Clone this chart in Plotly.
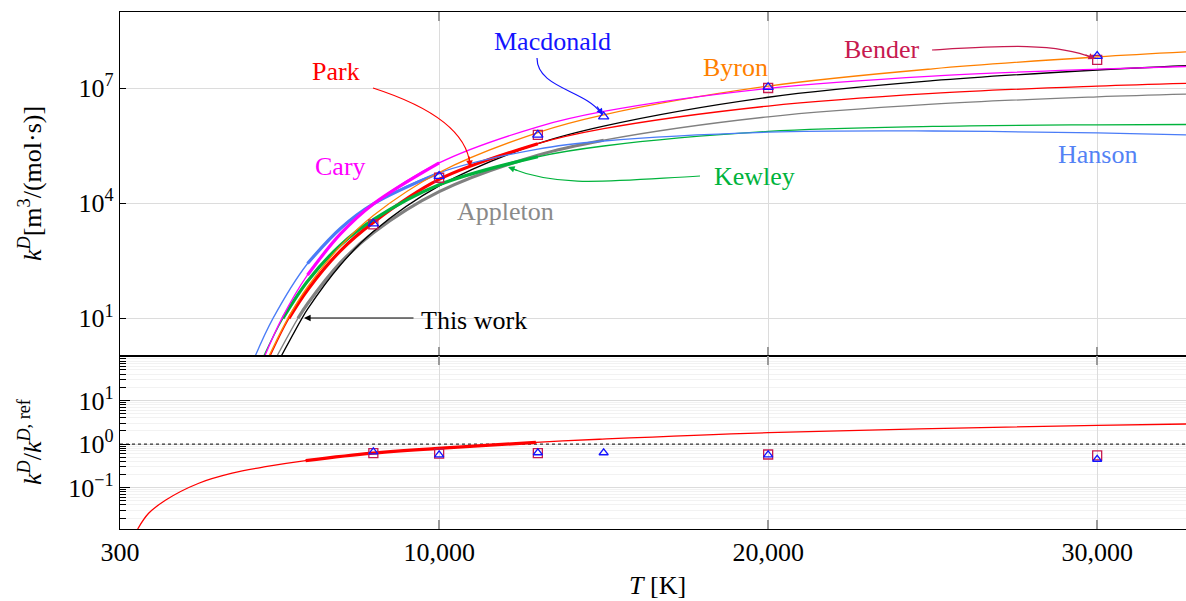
import numpy as np
import plotly.graph_objects as go
from plotly.subplots import make_subplots

# ---------------- data ----------------
park_T = [4850, 5434, 6000, 7000, 8000, 10000, 13000, 15000, 20000, 25000, 30000, 32700]
park_k = [1.0, 1.0e1, 5.5e1, 5.75e2, 3.16e3, 4.17e4, 3.55e5, 8.71e5, 3.39e6, 7.24e6, 1.12e7, 1.32e7]

this_T = [5190, 5830, 6000, 7000, 8000, 10000, 13000, 15000, 20000, 25000, 30000, 32700]
this_k = [1.0, 1.0e1, 1.74e1, 2.45e2, 1.82e3, 2.82e4, 3.55e5, 1.02e6, 5.75e6, 1.55e7, 2.95e7, 3.80e7]

appleton_T = [5060, 5708, 6000, 7000, 8000, 10000, 13000, 15000, 20000, 25000, 30000, 32700]
appleton_k = [1.0, 1.0e1, 2.40e1, 2.82e2, 1.70e3, 2.0e4, 1.78e5, 4.37e5, 1.78e6, 3.80e6, 5.89e6, 6.92e6]

kewley_T = [4660, 5251, 6000, 7000, 8000, 10000, 13000, 15000, 20000, 25000, 30000, 32700]
kewley_k = [1.0, 1.0e1, 9.3e1, 8.1e2, 3.72e3, 3.02e4, 1.62e5, 3.09e5, 7.41e5, 1.0e6, 1.10e6, 1.12e6]

hanson_T = [4400, 4950, 6000, 7000, 8000, 10000, 13000, 15000, 20000, 25000, 30000, 32700]
hanson_k = [1.0, 1.0e1, 2.69e2, 2.19e3, 9.55e3, 6.17e4, 2.57e5, 4.17e5, 7.08e5, 7.59e5, 6.76e5, 6.03e5]

cary_T = [4690, 5220, 6000, 7000, 8000, 10000, 13000, 15000, 20000, 25000, 30000, 32700]
cary_k = [1.0, 1.0e1, 1.35e2, 1.58e3, 9.55e3, 1.12e5, 9.77e5, 2.45e6, 9.77e6, 2.04e7, 3.09e7, 3.63e7]

byron_T = [4820, 5403, 6000, 7000, 8000, 10000, 13000, 15000, 20000, 25000, 30000, 32700]
byron_k = [1.0, 1.0e1, 6.6e1, 7.6e2, 4.79e3, 6.31e4, 6.92e5, 2.0e6, 1.12e7, 3.16e7, 6.46e7, 8.71e7]

bender_T = [8000, 10000, 13000, 20000, 30000]
bender_k = [2.8e3, 4.6e4, 6.0e5, 1.0e7, 5.4e7]
bender_ratio = [0.617, 0.603, 0.617, 0.575, 0.55]

macdonald_T = [8000, 10000, 13000, 15000, 20000, 30000]
macdonald_k = [2.95e3, 5.1e4, 6.0e5, 1.8e6, 1.05e7, 6.8e7]
macdonald_ratio = [0.66, 0.562, 0.631, 0.631, 0.562, 0.447]

ratio_T = [837, 1170, 1680, 2694, 3708, 4724, 5942, 7970, 9960, 12940, 14870, 20000, 30000, 32700]
ratio_v = [0.0112, 0.0257, 0.0513, 0.126, 0.214, 0.302, 0.417, 0.617, 0.794, 1.096, 1.288, 1.82, 2.69, 2.88]

x_ticks = [300, 10000, 20000, 30000]
x_ticktext = ["300", "10,000", "20,000", "30,000"]
x_range = [300, 32700]

# ---------------- style ----------------
RED = "#ff0000"
BLACK = "#000000"
GRAY = "#808080"
GREEN = "#00b33c"
HBLUE = "#4a7cf7"
MAGENTA = "#ff00ff"
ORANGE = "#ff8000"
CRIMSON = "#c71a4f"
BLUE = "#1414ff"
FONT = "Liberation Serif, DejaVu Serif, serif"
FS = 26
THIN = 1.3
THICK = 3.2

W, H = 1186, 601
L, R, T_, B = 120, 0, 12, 72
PLOT_W = W - L - R
PLOT_H = H - T_ - B


def PX(px):
    return (px - L) / PLOT_W


def PY(py):
    return (H - B - py) / PLOT_H


fig = make_subplots(rows=2, cols=1, shared_xaxes=True, vertical_spacing=0,
                    row_heights=[344, 173])

curves = [
    (appleton_T, appleton_k, GRAY, (1, 8)),
    (this_T, this_k, BLACK, None),
    (park_T, park_k, RED, (1, 7)),
    (kewley_T, kewley_k, GREEN, (1, 7)),
    (hanson_T, hanson_k, HBLUE, (2, 6)),
    (byron_T, byron_k, ORANGE, None),
    (cary_T, cary_k, MAGENTA, (2, 6)),
]
for xs, ys, col, thick in curves:
    fig.add_trace(go.Scatter(x=xs, y=ys, mode="lines",
                             line=dict(color=col, width=THIN, shape="spline", smoothing=1.0),
                             showlegend=False), row=1, col=1)
    if thick:
        a, b = thick
        fig.add_trace(go.Scatter(x=xs[a:b], y=ys[a:b], mode="lines",
                                 line=dict(color=col, width=THICK, shape="spline", smoothing=1.0),
                                 showlegend=False), row=1, col=1)

fig.add_trace(go.Scatter(x=bender_T, y=bender_k, mode="markers",
                         marker=dict(symbol="square-open", size=9, color=CRIMSON,
                                     line=dict(width=1.3, color=CRIMSON)),
                         showlegend=False), row=1, col=1)
fig.add_trace(go.Scatter(x=macdonald_T, y=macdonald_k, mode="markers",
                         marker=dict(symbol="triangle-up-open", size=9, color=BLUE,
                                     line=dict(width=1.3, color=BLUE)),
                         showlegend=False), row=1, col=1)

# bottom panel
fig.add_trace(go.Scatter(x=x_range, y=[1, 1], mode="lines",
                         line=dict(color="#333333", width=1.2, dash="dot"),
                         showlegend=False), row=2, col=1)
fig.add_trace(go.Scatter(x=ratio_T, y=ratio_v, mode="lines",
                         line=dict(color=RED, width=THIN, shape="spline", smoothing=1.0),
                         showlegend=False), row=2, col=1)
fig.add_trace(go.Scatter(x=ratio_T[6:10], y=ratio_v[6:10], mode="lines",
                         line=dict(color=RED, width=THICK, shape="spline", smoothing=1.0),
                         showlegend=False), row=2, col=1)
fig.add_trace(go.Scatter(x=bender_T, y=bender_ratio, mode="markers",
                         marker=dict(symbol="square-open", size=9, color=CRIMSON,
                                     line=dict(width=1.3, color=CRIMSON)),
                         showlegend=False), row=2, col=1)
fig.add_trace(go.Scatter(x=macdonald_T, y=macdonald_ratio, mode="markers",
                         marker=dict(symbol="triangle-up-open", size=8, color=BLUE,
                                     line=dict(width=1.3, color=BLUE)),
                         showlegend=False), row=2, col=1)

# axes
xcommon = dict(range=x_range, tickvals=x_ticks, ticktext=x_ticktext,
               showgrid=True, gridcolor="#dcdcdc", gridwidth=1,
               showline=True, linecolor="black", linewidth=1.3, mirror="ticks",
               ticks="inside", ticklen=9, tickcolor="#9a9a9a", tickwidth=1.5,
               zeroline=False)
fig.update_xaxes(**xcommon, row=1, col=1, showticklabels=False)
fig.update_xaxes(**xcommon, row=2, col=1, showticklabels=True,
                 tickfont=dict(family=FONT, size=FS, color="black"))

fig.update_yaxes(type="log", range=[0.02, 8.98], row=1, col=1,
                 tickvals=[1e1, 1e4, 1e7],
                 ticktext=["10<sup>1</sup>", "10<sup>4</sup>", "10<sup>7</sup>"],
                 showgrid=True, gridcolor="#dcdcdc", gridwidth=1,
                 showline=True, linecolor="black", linewidth=1.3,
                 ticks="inside", ticklen=6, tickcolor="black",
                 tickfont=dict(family=FONT, size=FS, color="black"), zeroline=False)

minor_vals = [m * 10.0 ** e for e in range(-2, 2) for m in range(2, 10)]
fig.update_yaxes(type="log", range=[-1.95, 2.02], row=2, col=1,
                 tickvals=[0.1, 1, 10],
                 ticktext=["10<sup>\u22121</sup>", "10<sup>0</sup>", "10<sup>1</sup>"],
                 showgrid=True, gridcolor="#dcdcdc", gridwidth=1,
                 showline=True, linecolor="black", linewidth=1.3,
                 ticks="inside", ticklen=10, tickcolor="black",
                 minor=dict(tickvals=minor_vals, ticks="inside", ticklen=6,
                            tickcolor="black", showgrid=True, gridcolor="#f2f2f2"),
                 tickfont=dict(family=FONT, size=FS, color="black"), zeroline=False)

# annotations
ann = []


def label(text, px, py, color, **kw):
    ann.append(dict(text=text, x=PX(px), y=PY(py), xref="paper", yref="paper",
                    showarrow=False, font=dict(family=FONT, size=FS, color=color),
                    xanchor="center", yanchor="middle", **kw))


def arrowhead(px, py, ax, ay, color):
    ann.append(dict(text="", x=PX(px), y=PY(py), xref="paper", yref="paper",
                    showarrow=True, ax=ax, ay=ay, arrowhead=2, arrowsize=1.1,
                    arrowwidth=1.2, arrowcolor=color, standoff=0))


label("Park", 336, 71, RED)
label("Macdonald", 552, 41, BLUE)
label("Byron", 735, 68, ORANGE)
label("Bender", 881, 50, CRIMSON)
label("Cary", 340, 166, MAGENTA)
label("Hanson", 1097, 154, "#5382f5")
label("Kewley", 754, 176, GREEN)
label("Appleton", 505, 211, "#8a8a8a")
label("This work", 474, 320, BLACK)

# curved connector paths
shapes = []


def path(pts, color, kind="C"):
    p = [(PX(a), PY(b)) for a, b in pts]
    d = "M %.5f,%.5f %s " % (p[0][0], p[0][1], kind) + " ".join("%.5f,%.5f" % q for q in p[1:])
    shapes.append(dict(type="path", path=d, xref="paper", yref="paper",
                       line=dict(color=color, width=1.2)))


path([(373, 88), (466, 118), (470, 165)], RED, "Q")
arrowhead(470, 167, -1, -12, RED)
path([(537, 58), (537, 88), (585, 90), (601, 113)], BLUE)
arrowhead(603, 115, -7, -10, BLUE)
path([(932, 50), (1000, 46), (1055, 42), (1093, 58)], CRIMSON)
arrowhead(1095, 59, -11, -5, CRIMSON)
path([(700, 176), (610, 181), (560, 188), (510, 168)], GREEN)
arrowhead(508, 167, 11, 4, GREEN)
arrowhead(304, 318, 111, 0, BLACK)

# axis titles
ann.append(dict(text="<i>k</i><sup><i>D</i></sup>[m<sup>3</sup>/(mol\u00b7s)]",
                x=PX(30), y=PY(184), xref="paper", yref="paper", showarrow=False,
                textangle=-90, font=dict(family=FONT, size=FS, color="black"),
                xanchor="center", yanchor="middle"))
ann.append(dict(text="<i>k</i><sup><i>D</i></sup>/<i>k</i><sup><i>D</i>, ref</sup>",
                x=PX(30), y=PY(442), xref="paper", yref="paper", showarrow=False,
                textangle=-90, font=dict(family=FONT, size=FS, color="black"),
                xanchor="center", yanchor="middle"))
ann.append(dict(text="<i>T</i> [K]", x=PX(657), y=PY(585), xref="paper", yref="paper",
                showarrow=False, font=dict(family=FONT, size=FS, color="black"),
                xanchor="center", yanchor="middle"))

fig.update_layout(width=W, height=H, margin=dict(l=L, r=R, t=T_, b=B),
                  paper_bgcolor="white", plot_bgcolor="white",
                  font=dict(family=FONT, size=FS, color="black"),
                  showlegend=False, annotations=ann, shapes=shapes)

fig.write_html("out.html")
